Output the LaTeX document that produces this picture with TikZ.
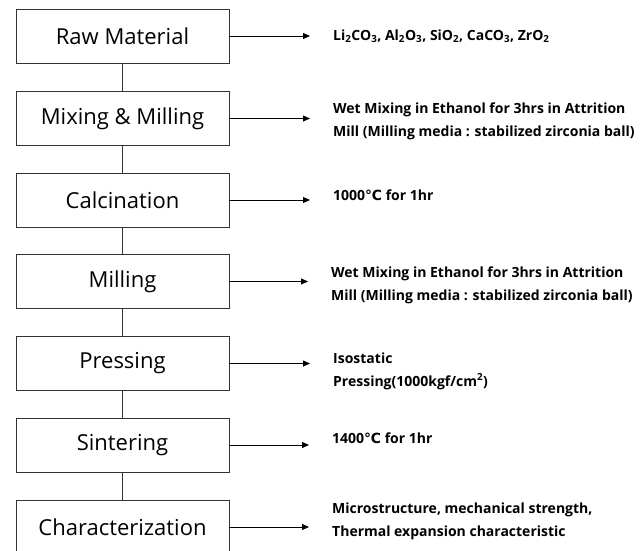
\documentclass[tikz,border=0pt]{standalone}
\usepackage{fontspec}
\setmainfont{Open Sans}
\newfontfamily\symfont{DejaVu Sans}
\usetikzlibrary{arrows.meta}
\newcommand{\chemsub}[1]{\textsubscript{#1}}
\newcommand{\degC}{{\symfont\bfseries ℃}}

\begin{document}
\begin{tikzpicture}[x=1pt, y=-1pt,
    stepbox/.style={rectangle, draw=black!80, line width=0.8pt, minimum width=213pt, minimum height=54pt, font=\fontsize{22}{26}\selectfont, inner sep=0pt},
    note/.style={anchor=west, align=left, inner sep=0pt, font=\fontsize{14}{23}\selectfont\bfseries},
    flow/.style={draw=black, line width=0.8pt, -{Triangle[length=7pt, width=6pt]}, shorten >=23pt}]
  \useasboundingbox (0,0) rectangle (643,551);
  \clip (0,0) rectangle (643,551);
  % process steps
  \node [stepbox] (raw) at (122.5, 36) {Raw Material};
  \node [stepbox] (mix) at (122.5, 118.5) {Mixing \& Milling};
  \node [stepbox] (calc) at (122.5, 200) {Calcination};
  \node [stepbox] (mill) at (122.5, 281.5) {Milling};
  \node [stepbox] (press) at (122.5, 363.5) {Pressing};
  \node [stepbox] (sint) at (122.5, 445) {Sintering};
  \node [stepbox] (char) at (122.5, 527) {Characterization};
  % conditions
  \node [note] (rawtxt) at (333, 36) {Li\chemsub{2}CO\chemsub{3}, Al\chemsub{2}O\chemsub{3}, SiO\chemsub{2}, CaCO\chemsub{3}, ZrO\chemsub{2}};
  \node [note] (mixtxt) at (333, 121.5) {Wet Mixing in Ethanol for 3hrs in Attrition\\Mill (Milling media : stabilized zirconia ball)};
  \node [note] (calctxt) at (333, 195) {1000\degC\ for 1hr};
  \node [note] (milltxt) at (331, 285) {Wet Mixing in Ethanol for 3hrs in Attrition\\Mill (Milling media : stabilized zirconia ball)};
  \node [note] (presstxt) at (333, 371) {Isostatic\\Pressing(1000kgf/cm\textsuperscript{2})};
  \node [note] (sinttxt) at (332, 438) {1400\degC\ for 1hr};
  \node [note] (chartxt) at (332, 521.5) {Microstructure, mechanical strength,\\Thermal expansion characteristic};
  \draw [draw=black!80, line width=0.8pt] (raw) -- (mix);
  \draw [draw=black!80, line width=0.8pt] (mix) -- (calc);
  \draw [draw=black!80, line width=0.8pt] (calc) -- (mill);
  \draw [draw=black!80, line width=0.8pt] (mill) -- (press);
  \draw [draw=black!80, line width=0.8pt] (press) -- (sint);
  \draw [draw=black!80, line width=0.8pt] (sint) -- (char);
  \draw [flow] (raw.east) -- (raw.east -| rawtxt.west);
  \draw [flow] (mix.east) -- (mix.east -| mixtxt.west);
  \draw [flow] (calc.east) -- (calc.east -| calctxt.west);
  \draw [flow] (mill.east) -- (mill.east -| milltxt.west);
  \draw [flow] (press.east) -- (press.east -| presstxt.west);
  \draw [flow] (sint.east) -- (sint.east -| sinttxt.west);
  \draw [flow] (char.east) -- (char.east -| chartxt.west);
\end{tikzpicture}
\end{document}
